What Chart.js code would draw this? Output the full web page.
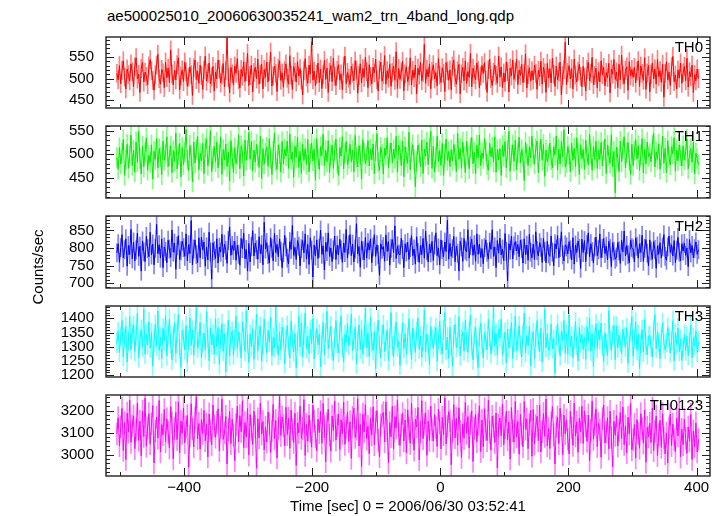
<!DOCTYPE html>
<html>
<head>
<meta charset="utf-8">
<script src="https://cdn.jsdelivr.net/npm/chart.js@4.4.1/dist/chart.umd.min.js"></script>
<style>
  body { margin: 0; background: #fff; }
  #wrap { position: relative; width: 721px; height: 516px; overflow: hidden; font-family: "Liberation Sans", Arial, sans-serif; }
  #wrap canvas { position: absolute; left: 0; }
  #title { position: absolute; left: 107px; top: 7px; font-size: 15px; line-height: 18px; color: #000; white-space: nowrap; }
</style>
</head>
<body>
<div id="wrap">
  <div id="title">ae500025010_20060630035241_wam2_trn_4band_long.qdp</div>
  <canvas id="p0"></canvas>
  <canvas id="p1"></canvas>
  <canvas id="p2"></canvas>
  <canvas id="p3"></canvas>
  <canvas id="p4"></canvas>
</div>
<script>
// ── data (counts/sec, 2 s bins starting at t = -505 s) ──────────────────────
const binStart = -505;
const binSize = 2;

const th0 = [
  512,497,530,488,519,541,503,476,522,509,495,534,516,
  481,527,548,499,510,468,523,537,492,515,505,486,529,
  544,518,496,473,509,531,556,500,487,521,513,479,538,
  502,524,491,566,511,485,519,497,532,548,474,506,520,
  493,538,515,482,503,527,509,461,525,543,498,517,489,
  531,507,475,520,552,494,512,536,488,504,528,471,515,
  499,543,522,490,508,535,481,518,594,502,467,526,511,
  485,529,512,546,497,478,521,505,539,493,516,558,484,
  507,531,469,514,526,499,545,487,510,533,476,521,503,
  538,492,517,561,483,506,529,512,470,524,541,496,513,
  480,519,534,501,487,553,508,475,528,515,492,539,506,
  523,497,462,518,546,504,489,531,510,585,497,517,483,
  510,536,491,522,477,509,542,498,524,468,515,530,493,
  547,505,484,519,532,496,511,474,529,552,488,514,501,
  486,528,513,495,541,520,466,507,534,490,523,503,549,
  516,479,532,505,488,526,513,545,497,471,520,538,494,
  509,553,487,518,501,534,482,514,529,496,562,477,523,
  498,515,540,472,511,527,493,506,548,485,519,502,531,
  465,524,508,537,495,513,579,489,521,504,534,476,517,
  532,499,514,483,546,508,491,525,512,470,537,518,496,
  520,474,529,543,502,487,518,533,465,511,526,495,541,
  489,516,503,558,481,524,509,497,536,519,478,506,530,
  512,537,496,468,521,545,500,484,515,531,507,489,552,
  503,527,479,513,492,538,516,469,524,506,543,498,515,
  545,486,520,507,533,491,512,557,478,509,525,494,518,
  497,531,512,475,519,504,540,487,526,513,468,535,501,
  523,490,547,510,482,529,497,515,538,462,507,521,584,
  486,514,530,499,523,476,545,508,492,517,533,505,481,
  528,503,471,521,538,495,512,549,486,507,524,478,516,
  492,541,509,526,483,514,502,535,467,522,510,544,498,
  515,479,533,497,554,508,488,519,527,473,539,506,521,
  503,526,490,517,541,482,529,512,496,548,475,513,530,
  469,510,536,499,522,487,544,504,518,491,533,457,512,
  539,497,515,484,527,551,493,508,476,520,501,536,489,
  513,528,495,547,480,516,504,531,468,509,495,522,500
];
const th1 = [
  493,468,514,479,502,531,455,488,521,470,497,541,476,
  509,462,526,483,549,491,458,517,473,504,535,466,498,
  482,520,447,506,489,533,471,512,495,456,528,487,501,
  537,474,496,518,461,508,484,545,469,499,523,452,514,
  478,505,552,488,465,519,497,441,526,481,510,538,467,
  502,486,523,459,514,533,476,495,550,463,491,517,484,
  526,471,499,537,457,510,488,522,474,505,443,529,493,
  461,514,480,497,541,469,518,502,454,530,487,508,546,
  489,527,465,509,483,521,496,472,538,448,512,479,503,
  515,474,533,491,457,506,545,485,468,520,501,462,527,
  480,511,496,528,470,543,489,505,451,517,493,536,472,
  506,459,521,487,512,478,531,463,500,524,486,511,445,
  533,490,468,516,497,542,475,508,484,529,461,498,519,
  470,507,532,481,455,514,496,537,469,502,527,478,491,
  521,484,509,463,540,493,473,518,499,447,531,504,480,
  496,529,475,511,488,522,458,507,544,483,466,515,500,
  458,513,497,535,471,503,524,482,510,491,538,462,519,
  509,476,528,452,516,494,481,547,467,505,520,488,431,
  485,520,503,473,530,459,511,496,526,478,514,549,470,
  517,462,494,539,484,508,476,523,455,500,532,487,506,
  474,510,486,521,499,463,545,489,512,470,526,495,461,
  528,497,469,513,536,480,504,458,519,492,541,476,503,
  491,533,507,478,466,523,495,514,483,537,462,510,488,
  512,455,519,495,527,471,508,549,464,498,520,485,530,
  467,503,536,482,510,494,444,525,501,476,516,492,538,
  500,479,513,528,461,506,532,487,521,453,509,484,497,
  524,488,471,515,498,539,466,511,479,527,494,552,473,
  482,516,499,463,524,487,513,474,535,502,457,520,491,
  510,468,530,494,478,543,501,466,516,489,528,470,508,
  489,525,475,507,532,459,519,497,481,541,473,506,418,
  515,492,463,528,484,512,537,471,503,525,487,457,521,
  476,507,531,490,518,466,498,533,460,511,479,526,495,
  502,484,519,544,473,505,489,522,468,496,538,481,513,
  461,529,494,477,516,501,535,464,509,486,520,497,475,
  518,488,505,532,469,497,512,483,526,458,502,491,478
];
const th2 = [
  786,812,759,801,838,772,795,826,748,807,781,853,769,
  817,763,794,842,776,805,734,820,789,761,833,798,775,
  845,780,811,752,799,867,784,809,771,826,744,803,790,
  758,822,797,773,851,788,814,739,806,835,767,792,819,
  801,776,840,763,809,784,878,752,797,823,781,758,829,
  772,831,795,817,748,803,766,845,788,711,815,792,770,
  826,757,802,788,839,774,811,793,756,821,860,779,807,
  793,819,765,808,782,751,827,798,842,769,796,734,813,
  760,804,849,777,814,795,768,832,784,809,752,873,797,
  815,781,757,829,799,763,841,787,810,775,826,791,744,
  787,836,803,771,755,818,796,864,779,802,767,821,805,
  749,798,821,786,840,768,810,753,829,794,717,808,777,
  823,770,799,851,782,806,737,816,790,843,776,800,761,
  795,834,767,808,780,825,795,759,814,787,853,771,809,
  838,778,811,760,797,869,783,804,745,820,792,766,830,
  771,815,794,826,758,803,838,776,809,781,722,812,796,
  804,762,837,790,818,751,799,824,787,863,770,806,783,
  780,828,796,744,812,789,816,767,801,835,778,797,754,
  832,787,759,807,781,827,771,848,792,760,811,786,819,
  764,809,843,778,800,752,823,795,775,817,790,879,768,
  813,776,798,833,761,805,785,734,819,803,762,827,794,
  789,852,771,806,825,779,809,762,840,782,811,773,798,
  755,801,823,788,768,816,796,852,776,803,744,821,785,
  828,780,797,764,841,790,706,812,794,834,769,806,818,
  792,810,775,822,798,757,826,781,808,765,839,788,772,
  811,767,846,793,777,815,802,759,827,790,758,819,783,
  776,834,788,749,812,797,836,772,801,846,780,763,809,
  803,783,818,795,766,829,754,808,787,820,799,742,825,
  787,821,761,810,843,774,812,790,757,803,831,778,795,
  840,772,799,827,784,805,766,819,798,747,815,791,768,
  774,816,792,756,822,789,848,777,807,781,758,823,801,
  797,760,829,805,771,812,787,836,762,799,824,785,749,
  823,791,768,818,796,742,806,782,815,771,803,838,776,
  765,803,834,787,809,777,821,758,794,830,788,763,812,
  791,813,779,800,747,824,786,807,772,798,817,782,795
];
const th3 = [
  1312,1354,1280,1337,1392,1265,1329,1371,1246,1318,1405,1290,1347,
  1376,1283,1339,1418,1261,1325,1360,1298,1431,1274,1342,1307,1388,
  1295,1350,1233,1316,1379,1302,1426,1287,1333,1258,1365,1321,1410,
  1268,1341,1397,1310,1254,1336,1384,1277,1349,1413,1292,1228,1358,
  1331,1289,1374,1244,1322,1402,1305,1359,1271,1340,1437,1296,1318,
  1385,1262,1314,1348,1290,1423,1327,1251,1366,1306,1343,1273,1399,
  1301,1367,1238,1329,1381,1284,1346,1212,1320,1394,1267,1338,1355,
  1270,1326,1408,1294,1352,1317,1260,1389,1335,1283,1427,1309,1244,
  1344,1299,1363,1256,1323,1414,1286,1341,1372,1249,1308,1396,1330,
  1279,1357,1315,1403,1268,1332,1297,1439,1313,1270,1352,1288,1369,
  1336,1241,1328,1375,1302,1260,1391,1325,1282,1347,1226,1319,1407,
  1300,1383,1264,1342,1419,1293,1337,1276,1361,1311,1398,1257,1324,
  1363,1307,1345,1229,1318,1386,1271,1350,1424,1292,1334,1373,1285,
  1252,1329,1392,1312,1278,1355,1409,1297,1247,1343,1316,1382,1304,
  1339,1415,1286,1326,1368,1239,1321,1376,1291,1360,1274,1330,1436,
  1297,1348,1266,1403,1315,1287,1353,1223,1337,1394,1306,1262,1344,
  1377,1283,1322,1359,1250,1331,1420,1303,1265,1341,1387,1299,1318,
  1235,1312,1384,1293,1347,1272,1335,1398,1316,1256,1366,1324,1280,
  1354,1401,1291,1338,1263,1319,1429,1282,1345,1308,1237,1371,1327,
  1296,1340,1367,1248,1325,1390,1304,1275,1358,1421,1289,1334,1259,
  1369,1305,1231,1343,1378,1297,1316,1406,1268,1328,1352,1285,1393,
  1318,1280,1356,1411,1301,1254,1338,1367,1292,1227,1336,1383,1310,
  1261,1349,1323,1289,1396,1333,1276,1320,1437,1302,1346,1270,1361,
  1332,1397,1270,1314,1351,1243,1362,1296,1328,1385,1259,1315,1408,
  1286,1321,1374,1306,1264,1344,1418,1279,1340,1304,1372,1233,1323,
  1351,1258,1335,1392,1317,1283,1365,1246,1313,1431,1297,1346,1288,
  1302,1379,1293,1328,1206,1339,1380,1311,1268,1355,1320,1392,1276,
  1345,1273,1413,1299,1337,1262,1324,1388,1305,1250,1368,1313,1342,
  1290,1334,1256,1370,1319,1402,1284,1345,1231,1330,1381,1294,1357,
  1324,1383,1303,1247,1349,1311,1268,1427,1323,1287,1341,1375,1255,
  1373,1296,1341,1316,1276,1361,1333,1298,1367,1242,1318,1350,1405,
  1267,1327,1387,1288,1343,1224,1312,1360,1281,1396,1305,1272,1337,
  1340,1300,1263,1358,1413,1294,1352,1316,1258,1334,1384,1311,1290,
  1314,1368,1329,1278,1322,1391,1250,1348,1307,1366,1283,1326,1252,
  1298,1343,1285,1337,1269,1318,1376,1261,1332,1304,1356,1280,1317
];
const th0123 = [
  3094,3168,3041,3127,3210,3019,3145,2978,3189,3102,3248,3056,3131,
  3176,3027,3113,3234,3065,3152,2995,3198,3083,3257,3038,3121,3186,
  3049,3140,3223,2962,3107,3170,3075,3246,3012,3136,3091,3205,3058,
  3163,3101,3030,3218,3144,2981,3119,3192,3068,3240,3009,3153,3097,
  3212,3054,3126,3178,2943,3085,3231,3117,3035,3167,3263,3072,3142,
  3025,3159,3096,3201,3063,3138,2990,3185,3110,3044,3226,3131,3079,
  3147,3208,3018,3124,3252,3069,3098,3174,2957,3113,3196,3050,3160,
  3089,2972,3135,3221,3058,3177,3104,3245,3032,3146,3081,3210,2999,
  3182,3115,3046,3198,3128,2938,3163,3076,3235,3093,3150,3022,3125,
  3057,3194,3139,3010,3108,3228,3071,3155,2985,3120,3264,3087,3171,
  3133,3040,3215,3092,3166,3029,3202,3114,3055,3188,2951,3143,3099,
  3220,3074,3118,3250,2996,3137,3061,3179,3106,3034,3224,3152,3082,
  3017,3161,3100,3196,3052,3232,3127,2968,3141,3207,3088,3016,3175,
  3109,3243,3066,3132,3185,3023,3158,3095,3238,3047,3122,3193,3060,
  3149,2983,3170,3211,3078,3116,3254,3039,3137,2946,3184,3103,3226,
  3071,3129,3004,3164,3090,3217,3045,3148,3200,3066,2991,3135,3178,
  3191,3058,3239,3111,2963,3146,3081,3219,3027,3172,3121,3249,3093,
  3042,3134,3187,3062,3157,3008,3204,3118,3051,3233,3097,3020,3161,
  3126,3214,2976,3102,3245,3073,3138,3190,2997,3153,3065,3221,3112,
  3062,3182,3123,3037,3206,3144,3026,3169,3091,3258,3048,3130,3195,
  3154,2954,3108,3227,3076,3165,3043,3213,3105,2987,3140,3074,3237,
  3097,3173,3031,3141,3199,2969,3120,3182,3059,3136,3222,3014,3157,
  3035,3209,3114,3064,3247,3100,3021,3175,3128,3055,3189,2940,3133,
  3166,3086,3229,3045,3123,3197,3067,3148,2980,3214,3109,3057,3242,
  3080,3151,3002,3183,3094,3036,3241,3115,3162,3027,3138,3201,2993,
  3206,3048,3132,3174,3063,3225,3012,3104,3187,3083,3253,3040,3119,
  3028,3145,3218,3089,2958,3127,3171,3050,3211,3134,2999,3180,3095,
  3158,3071,3003,3196,3120,3042,3234,3084,3149,3011,3167,3103,3220,
  3051,3199,3129,3060,3180,2973,3111,3243,3070,3135,3208,3037,3142,
  3113,2988,3164,3226,3053,3101,3168,3026,3197,3078,2944,3151,3088,
  3177,3039,3110,3192,3073,3216,3046,3131,3009,3170,3093,3232,3022,
  3067,3137,2984,3159,3097,3029,3186,3117,3052,3203,2965,3124,3081,
  3143,3055,3212,3018,3106,3175,2995,3091,3155,3033,3186,3077,3003,
  3099,2962,3121,3184,3041,3139,3069,3013,3166,3085,3211,2989,3115,
  3045,3160,3074,3006,3126,3061,3183,2978,3108,3037,3144,3012,3069
];

// 1-sigma error per bin
const th0Err = 21, th1Err = 21, th2Err = 26, th3Err = 33, th0123Err = 50;

const panelLabels = ['TH0', 'TH1', 'TH2', 'TH3', 'TH0123'];
const th0Ticks = [450, 500, 550];
const th1Ticks = [450, 500, 550];
const th2Ticks = [700, 750, 800, 850];
const th3Ticks = [1200, 1250, 1300, 1350, 1400];
const th0123Ticks = [3000, 3100, 3200];
const xTicks = [-400, -200, 0, 200, 400];

// ── layout ─────────────────────────────────────────────────────────────────
const FONT = '"Liberation Sans", Arial, sans-serif';
const panelTops = [28, 117, 207, 297, 386];
const panelBottoms = [117, 207, 297, 386, 476];
const PLOT_LEFT = 106, PLOT_RIGHT = 710, PAD = 12, X_AXIS_H = 40;

const times = th0.map((_, i) => binStart + i * binSize);

// frame, inward ticks, panel label and the shared y title
const frameTicks = {
  id: 'frameTicks',
  afterDatasetsDraw(chart, args, o) {
    const { ctx, chartArea: a, scales: { x, y } } = chart;
    const seg = (x1, y1, x2, y2) => { ctx.beginPath(); ctx.moveTo(x1, y1); ctx.lineTo(x2, y2); ctx.stroke(); };
    ctx.save();
    ctx.strokeStyle = '#222';
    ctx.lineWidth = 1;
    for (let v = Math.ceil(y.min / o.minor) * o.minor; v <= y.max; v += o.minor) {
      const py = Math.round(y.getPixelForValue(v)) + 0.5;
      const len = o.major.includes(v) ? 8 : 4;
      seg(a.left, py, a.left + len, py);
      seg(a.right, py, a.right - len, py);
    }
    for (let v = Math.ceil(x.min / 100) * 100; v <= x.max; v += 100) {
      const px = Math.round(x.getPixelForValue(v)) + 0.5;
      const len = v % 200 === 0 ? 8 : 4;
      seg(px, a.top, px, a.top + len);
      seg(px, a.bottom, px, a.bottom - len);
    }
    ctx.lineWidth = 1.4;
    ctx.strokeRect(a.left, a.top, a.right - a.left, a.bottom - a.top);
    ctx.font = '15px ' + FONT;
    ctx.fillStyle = '#000';
    ctx.textAlign = 'right';
    ctx.textBaseline = 'alphabetic';
    ctx.fillText(o.label, a.right - 7, a.top + 15);
    if (o.yTitle) {
      ctx.translate(39, a.top + 51);
      ctx.rotate(-Math.PI / 2);
      ctx.textAlign = 'center';
      ctx.textBaseline = 'middle';
      ctx.fillText(o.yTitle, 0, 0);
    }
    ctx.restore();
  }
};

function makePanel(i, values, err, color, light, yMin, yMax, majorTicks, minorStep) {
  const bottomPanel = i === 4;
  const canvas = document.getElementById('p' + i);
  const top = panelTops[i] - PAD;
  const h = bottomPanel ? 516 - top : panelBottoms[i] - panelTops[i] + 2 * PAD;
  canvas.width = 721; canvas.height = h;
  canvas.style.width = '721px'; canvas.style.height = h + 'px';
  canvas.style.top = top + 'px';

  new Chart(canvas, {
    data: {
      datasets: [
        {
          type: 'line',
          data: values.map((v, k) => ({ x: times[k], y: v })),
          borderColor: color,
          borderWidth: 1,
          pointRadius: 0,
          tension: 0,
          order: 1,
        },
        {
          type: 'bar',
          data: values.map((v, k) => ({ x: times[k], y: [v - err, v + err] })),
          backgroundColor: light,
          borderWidth: 0,
          barThickness: 1,
          grouped: false,
          order: 2,
        }
      ]
    },
    options: {
      responsive: false,
      maintainAspectRatio: false,
      animation: false,
      events: [],
      layout: { padding: { left: 0, right: 721 - PLOT_RIGHT, top: PAD, bottom: bottomPanel ? 0 : PAD } },
      plugins: {
        legend: { display: false },
        tooltip: { enabled: false },
        frameTicks: {
          label: panelLabels[i], major: majorTicks, minor: minorStep,
          yTitle: i === 2 ? 'Counts/sec' : '',
        },
      },
      scales: {
        x: {
          type: 'linear',
          offset: false,
          min: -522, max: 421,
          display: bottomPanel,
          afterBuildTicks: s => { s.ticks = xTicks.map(v => ({ value: v })); },
          afterFit: s => { s.height = bottomPanel ? X_AXIS_H : 0; },
          grid: { display: false, drawTicks: false, offset: false },
          border: { display: false },
          ticks: {
            color: '#000', font: { size: 15, family: FONT }, padding: 3,
            autoSkip: false, maxRotation: 0,
            callback: v => String(v).replace('-', '\u2212'),
          },
          title: {
            display: true, text: 'Time [sec] 0 = 2006/06/30 03:52:41',
            color: '#000', font: { size: 15, family: FONT }, padding: { top: 0, bottom: 0 },
          },
        },
        y: {
          type: 'linear',
          min: yMin, max: yMax,
          afterBuildTicks: s => { s.ticks = majorTicks.map(v => ({ value: v })); },
          afterFit: s => { s.width = PLOT_LEFT; },
          grid: { display: false, drawTicks: false },
          border: { display: false },
          ticks: {
            color: '#000', font: { size: 15, family: FONT }, padding: 12,
            autoSkip: false, callback: v => String(v),
          },
        }
      }
    },
    plugins: [frameTicks]
  });
}

makePanel(0, th0, th0Err, '#ff0000', '#ff8080', 432, 596, th0Ticks, 10);
makePanel(1, th1, th1Err, '#00ee00', '#80ff80', 407, 560, th1Ticks, 10);
makePanel(2, th2, th2Err, '#0000ff', '#8080ff', 686, 891, th2Ticks, 10);
makePanel(3, th3, th3Err, '#00ffff', '#80ffff', 1194, 1443, th3Ticks, 10);
makePanel(4, th0123, th0123Err, '#ff00ff', '#ff80ff', 2903, 3271, th0123Ticks, 20);
</script>
</body>
</html>
